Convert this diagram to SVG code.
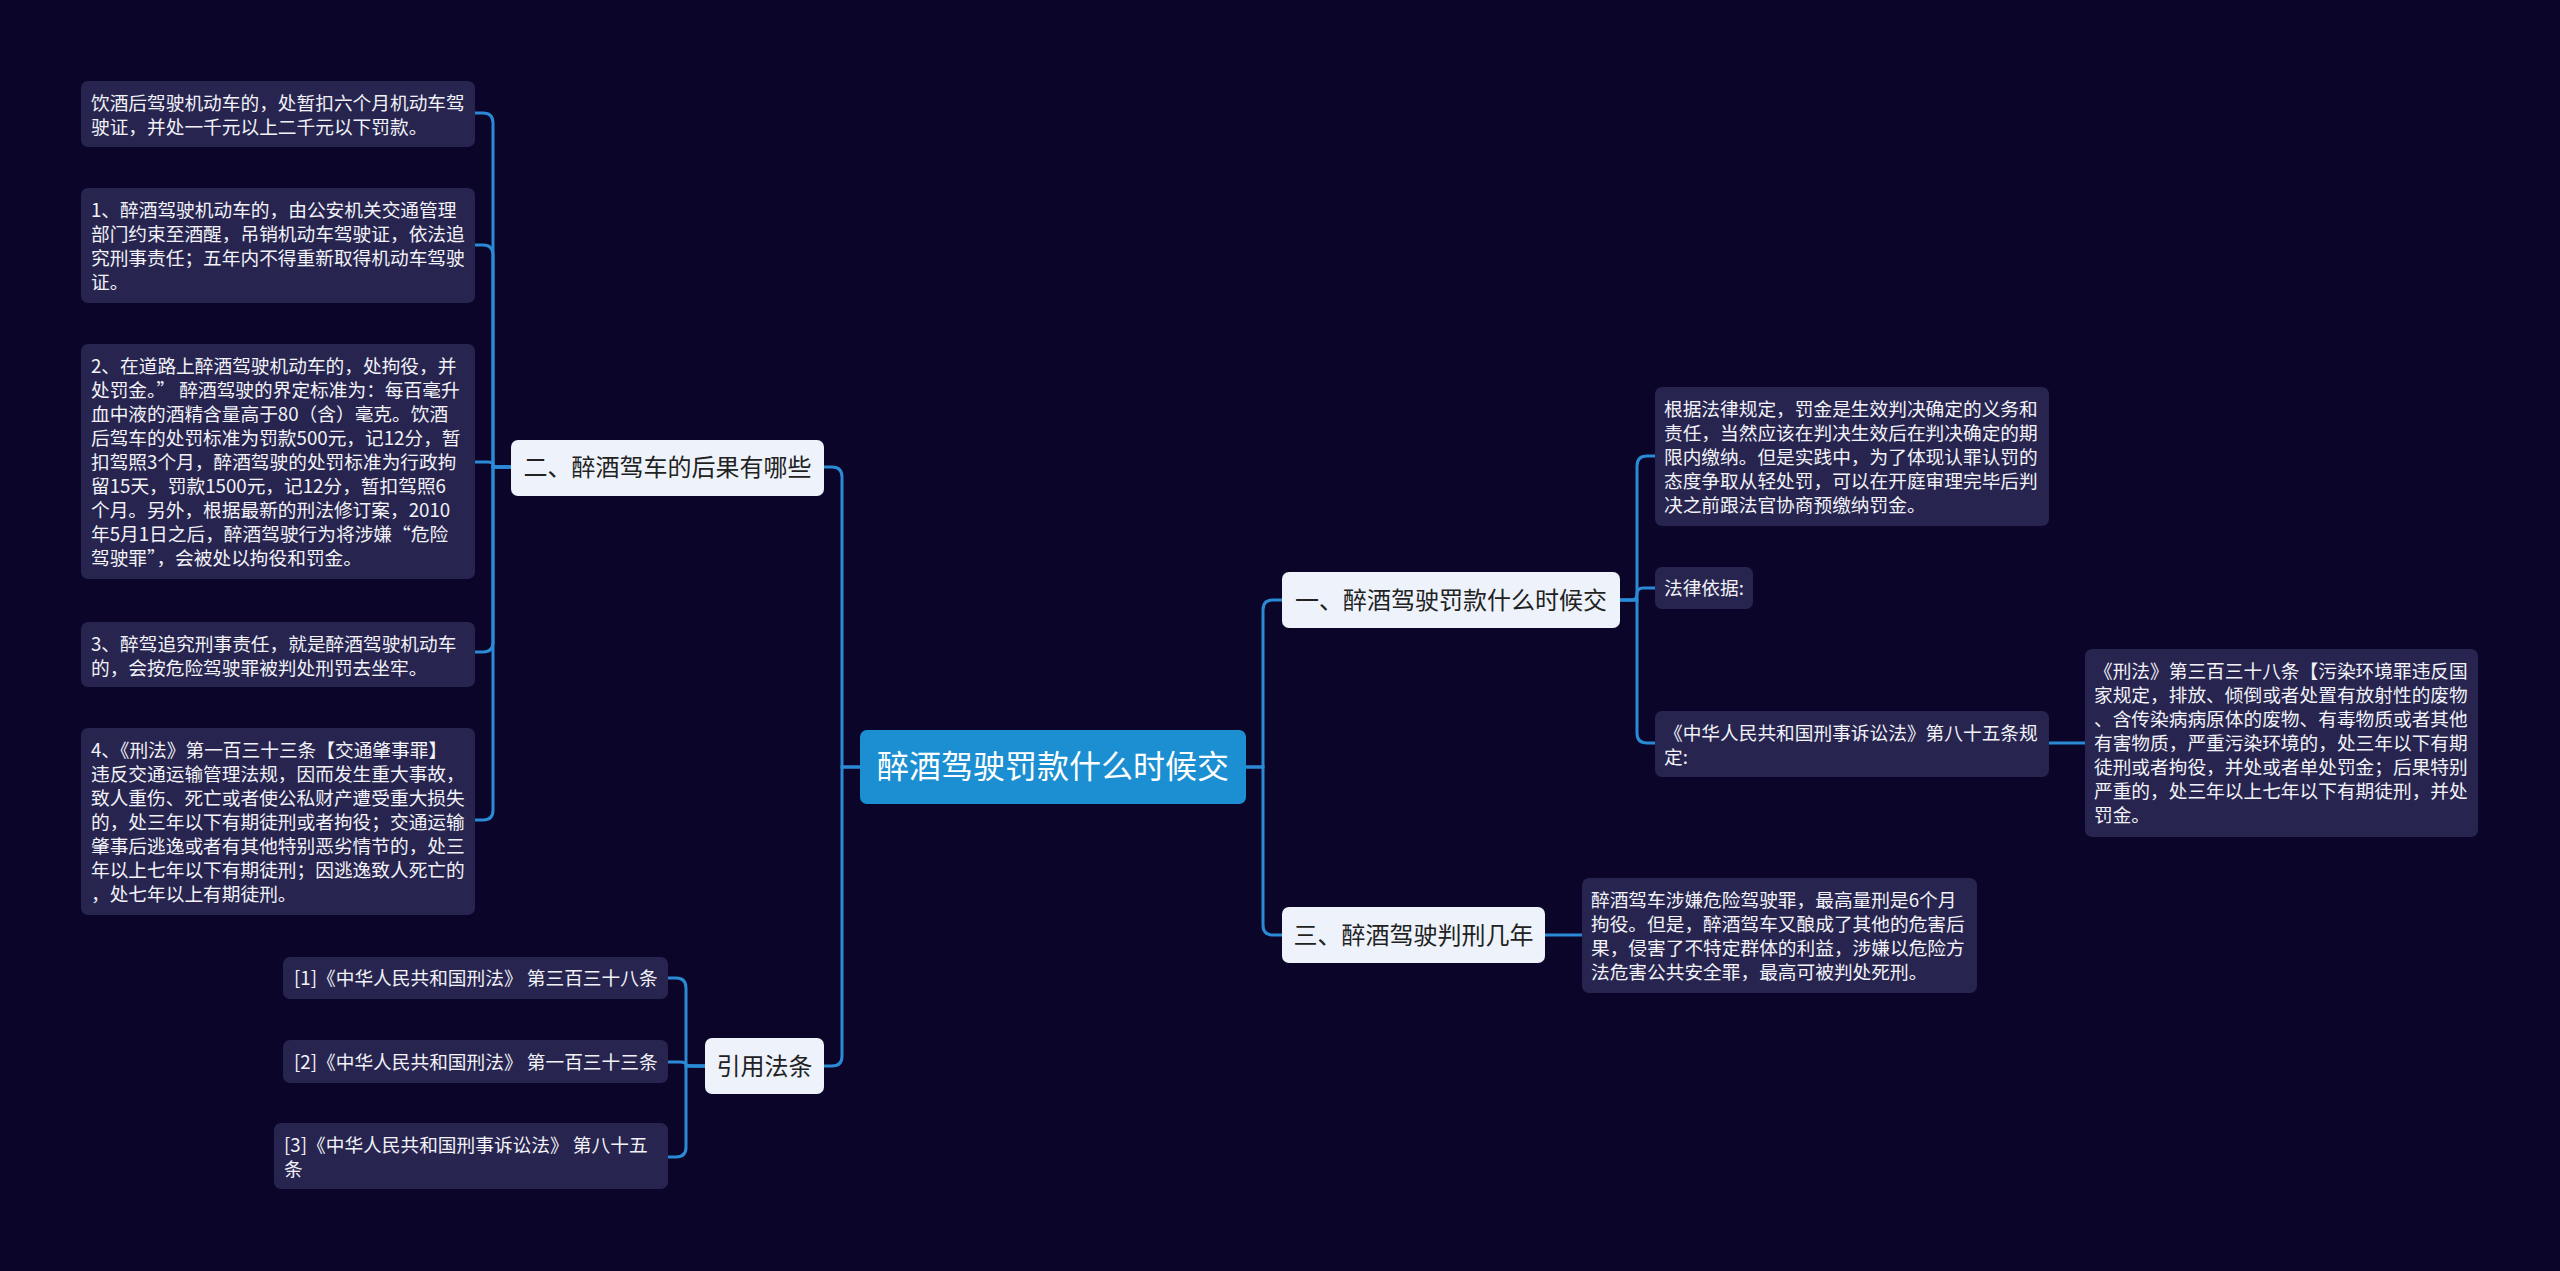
<svg xmlns="http://www.w3.org/2000/svg" width="2560" height="1271" viewBox="0 0 2560 1271">
<style>
text{font-family:"Noto Sans CJK SC","Noto Sans",sans-serif}
.leaf rect{fill:#27254f}
.leaf text{fill:#f2f2f8;font-size:18.7px}
.l1 rect{fill:#eef3fb}
.l1 text{fill:#222;font-size:24px;text-anchor:middle}
.root rect{fill:#1b8fd1}
.root text{fill:#ffffff;font-size:32px;text-anchor:middle}
.conn path{fill:none;stroke:#2a8ad6;stroke-width:3}
</style>
<rect x="0" y="0" width="2560" height="1271" fill="#0a0529"/>
<g id="connectors" class="conn">
<path d="M860,767 H842 V477 Q842,467 832,467 H824"/>
<path d="M860,767 H842 V1056 Q842,1066 832,1066 H824"/>
<path d="M1246,767 H1263 V610 Q1263,600 1273,600 H1282"/>
<path d="M1246,767 H1263 V925 Q1263,935 1273,935 H1282"/>
<path d="M1620,600 H1637 V466 Q1637,456 1647,456 H1655"/>
<path d="M1620,600 H1631 Q1637,600 1637,594 Q1637,588 1643,588 H1655"/>
<path d="M1620,600 H1637 V733 Q1637,743 1647,743 H1655"/>
<path d="M2049,743 H2085"/>
<path d="M1545,935 H1582"/>
<path d="M511,467 H493 V123 Q493,113 483,113 H475"/>
<path d="M511,467 H493 V255 Q493,245 483,245 H475"/>
<path d="M511,467 H499 Q493,467 493,464 Q493,462 488,462 H475"/>
<path d="M511,467 H493 V642 Q493,652 483,652 H475"/>
<path d="M511,467 H493 V810 Q493,820 483,820 H475"/>
<path d="M705,1066 H686 V988 Q686,978 676,978 H668"/>
<path d="M705,1066 H692 Q686,1066 686,1064 Q686,1062 680,1062 H668"/>
<path d="M705,1066 H686 V1147 Q686,1157 676,1157 H668"/>
</g>
<g id="root" class="root"><rect x="860" y="730" width="386" height="74" rx="7"/><text x="1053" y="778">醉酒驾驶罚款什么时候交</text></g>
<g id="n-er" class="l1"><rect x="511" y="440" width="313" height="56" rx="7"/><text x="667.5" y="476">二、醉酒驾车的后果有哪些</text></g>
<g id="n-yin" class="l1"><rect x="705" y="1038" width="119" height="56" rx="7"/><text x="764.5" y="1075">引用法条</text></g>
<g id="n-yi" class="l1"><rect x="1282" y="572" width="338" height="56" rx="7"/><text x="1451" y="609">一、醉酒驾驶罚款什么时候交</text></g>
<g id="n-san" class="l1"><rect x="1282" y="907" width="263" height="56" rx="7"/><text x="1413.5" y="944">三、醉酒驾驶判刑几年</text></g>
<g id="b1" class="leaf"><rect x="81" y="81" width="394" height="66" rx="7"/><text x="91" y="110"><tspan x="91">饮酒后驾驶机动车的，处暂扣六个月机动车驾</tspan><tspan x="91" dy="24">驶证，并处一千元以上二千元以下罚款。</tspan></text></g>
<g id="b2" class="leaf"><rect x="81" y="188" width="394" height="115" rx="7"/><text x="91" y="217"><tspan x="91">1、醉酒驾驶机动车的，由公安机关交通管理</tspan><tspan x="91" dy="24">部门约束至酒醒，吊销机动车驾驶证，依法追</tspan><tspan x="91" dy="24">究刑事责任；五年内不得重新取得机动车驾驶</tspan><tspan x="91" dy="24">证。</tspan></text></g>
<g id="b3" class="leaf"><rect x="81" y="344" width="394" height="235" rx="7"/><text x="91" y="373"><tspan x="91">2、在道路上醉酒驾驶机动车的，处拘役，并</tspan><tspan x="91" dy="24">处罚金。” 醉酒驾驶的界定标准为：每百毫升</tspan><tspan x="91" dy="24">血中液的酒精含量高于80（含）毫克。饮酒</tspan><tspan x="91" dy="24">后驾车的处罚标准为罚款500元，记12分，暂</tspan><tspan x="91" dy="24">扣驾照3个月，醉酒驾驶的处罚标准为行政拘</tspan><tspan x="91" dy="24">留15天，罚款1500元，记12分，暂扣驾照6</tspan><tspan x="91" dy="24">个月。另外，根据最新的刑法修订案，2010</tspan><tspan x="91" dy="24">年5月1日之后，醉酒驾驶行为将涉嫌“危险</tspan><tspan x="91" dy="24">驾驶罪”，会被处以拘役和罚金。</tspan></text></g>
<g id="b4" class="leaf"><rect x="81" y="622" width="394" height="65" rx="7"/><text x="91" y="651"><tspan x="91">3、醉驾追究刑事责任，就是醉酒驾驶机动车</tspan><tspan x="91" dy="24">的，会按危险驾驶罪被判处刑罚去坐牢。</tspan></text></g>
<g id="b5" class="leaf"><rect x="81" y="728" width="394" height="187" rx="7"/><text x="91" y="757"><tspan x="91">4、《刑法》第一百三十三条【交通肇事罪】</tspan><tspan x="91" dy="24">违反交通运输管理法规，因而发生重大事故，</tspan><tspan x="91" dy="24">致人重伤、死亡或者使公私财产遭受重大损失</tspan><tspan x="91" dy="24">的，处三年以下有期徒刑或者拘役；交通运输</tspan><tspan x="91" dy="24">肇事后逃逸或者有其他特别恶劣情节的，处三</tspan><tspan x="91" dy="24">年以上七年以下有期徒刑；因逃逸致人死亡的</tspan><tspan x="91" dy="24">，处七年以上有期徒刑。</tspan></text></g>
<g id="r1" class="leaf"><rect x="283" y="957" width="385" height="42" rx="7"/><text x="294" y="985">[1]《中华人民共和国刑法》 第三百三十八条</text></g>
<g id="r2" class="leaf"><rect x="283" y="1040" width="385" height="43" rx="7"/><text x="294" y="1069">[2]《中华人民共和国刑法》 第一百三十三条</text></g>
<g id="r3" class="leaf"><rect x="274" y="1123" width="394" height="66" rx="7"/><text x="284" y="1152"><tspan x="284">[3]《中华人民共和国刑事诉讼法》 第八十五</tspan><tspan x="284" dy="24">条</tspan></text></g>
<g id="a1" class="leaf"><rect x="1655" y="387" width="394" height="139" rx="7"/><text x="1664" y="416"><tspan x="1664">根据法律规定，罚金是生效判决确定的义务和</tspan><tspan x="1664" dy="24">责任，当然应该在判决生效后在判决确定的期</tspan><tspan x="1664" dy="24">限内缴纳。但是实践中，为了体现认罪认罚的</tspan><tspan x="1664" dy="24">态度争取从轻处罚，可以在开庭审理完毕后判</tspan><tspan x="1664" dy="24">决之前跟法官协商预缴纳罚金。</tspan></text></g>
<g id="a2" class="leaf"><rect x="1655" y="567" width="98" height="42" rx="7"/><text x="1664" y="595">法律依据:</text></g>
<g id="a3" class="leaf"><rect x="1655" y="711" width="394" height="66" rx="7"/><text x="1664" y="740"><tspan x="1664">《中华人民共和国刑事诉讼法》第八十五条规</tspan><tspan x="1664" dy="24">定:</tspan></text></g>
<g id="a4" class="leaf"><rect x="2085" y="649" width="393" height="188" rx="7"/><text x="2094" y="678"><tspan x="2094">《刑法》第三百三十八条【污染环境罪违反国</tspan><tspan x="2094" dy="24">家规定，排放、倾倒或者处置有放射性的废物</tspan><tspan x="2094" dy="24">、含传染病病原体的废物、有毒物质或者其他</tspan><tspan x="2094" dy="24">有害物质，严重污染环境的，处三年以下有期</tspan><tspan x="2094" dy="24">徒刑或者拘役，并处或者单处罚金；后果特别</tspan><tspan x="2094" dy="24">严重的，处三年以上七年以下有期徒刑，并处</tspan><tspan x="2094" dy="24">罚金。</tspan></text></g>
<g id="c1" class="leaf"><rect x="1582" y="878" width="395" height="115" rx="7"/><text x="1591" y="907"><tspan x="1591">醉酒驾车涉嫌危险驾驶罪，最高量刑是6个月</tspan><tspan x="1591" dy="24">拘役。但是，醉酒驾车又酿成了其他的危害后</tspan><tspan x="1591" dy="24">果，侵害了不特定群体的利益，涉嫌以危险方</tspan><tspan x="1591" dy="24">法危害公共安全罪，最高可被判处死刑。</tspan></text></g>
</svg>
